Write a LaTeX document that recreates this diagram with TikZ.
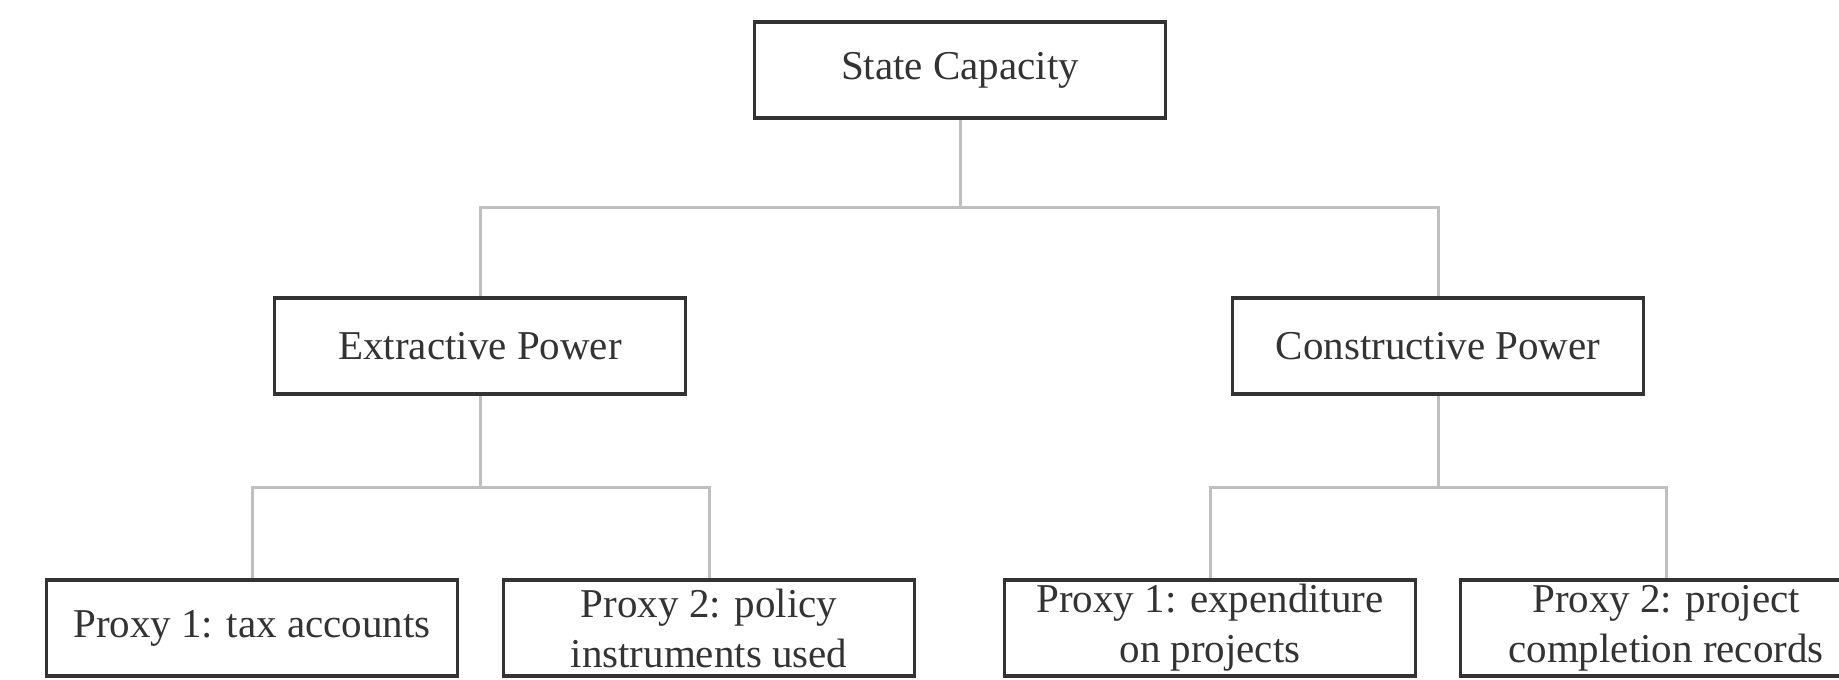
\documentclass[tikz,border=0pt]{standalone}
\usepackage{fontspec}
\setmainfont{Liberation Serif}
\usetikzlibrary{positioning,backgrounds}

\begin{document}
\begin{tikzpicture}[x=50pt,y=50pt]
\tikzset{
  box/.style={draw=black!80, line width=1.9pt, minimum width=205.5pt, minimum height=48pt,
    inner sep=0pt, align=center, text=black!80, font=\fontsize{20.5}{25}\selectfont},
  link/.style={draw=black!25, line width=1.5pt}
}
\useasboundingbox (0,0) rectangle (18.39,6.79);
%
\node[box] (state) at (9.60,6.09) {State Capacity};
%
\node[box] (extr) at (4.80,3.33) {Extractive Power};
\node[box] (cons) at (14.38,3.33) {Constructive Power};
%
\node[box] (tax) at (2.52,0.51) {Proxy 1: tax accounts};
\node[box] (policy) at (7.09,0.51) {Proxy 2: policy\\instruments used};
\node[box] (spend) at (12.10,0.51) {Proxy 1: expenditure\\on projects};
\node[box] (records) at (16.66,0.51) {Proxy 2: project\\completion records};
%
\coordinate (top) at (9.60,4.71);
\coordinate (left) at (4.80,1.91);
\coordinate (right) at (14.38,1.91);
%
\begin{scope}[on background layer]
\draw[link] (state.south) -- (top);
\draw[link] (extr.north) |- (top) -| (cons.north);
\draw[link] (extr.south) -- (left);
\draw[link] (tax.north) |- (left) -| (policy.north);
\draw[link] (cons.south) -- (right);
\draw[link] (spend.north) |- (right) -| (records.north);
\end{scope}
\end{tikzpicture}
\end{document}
